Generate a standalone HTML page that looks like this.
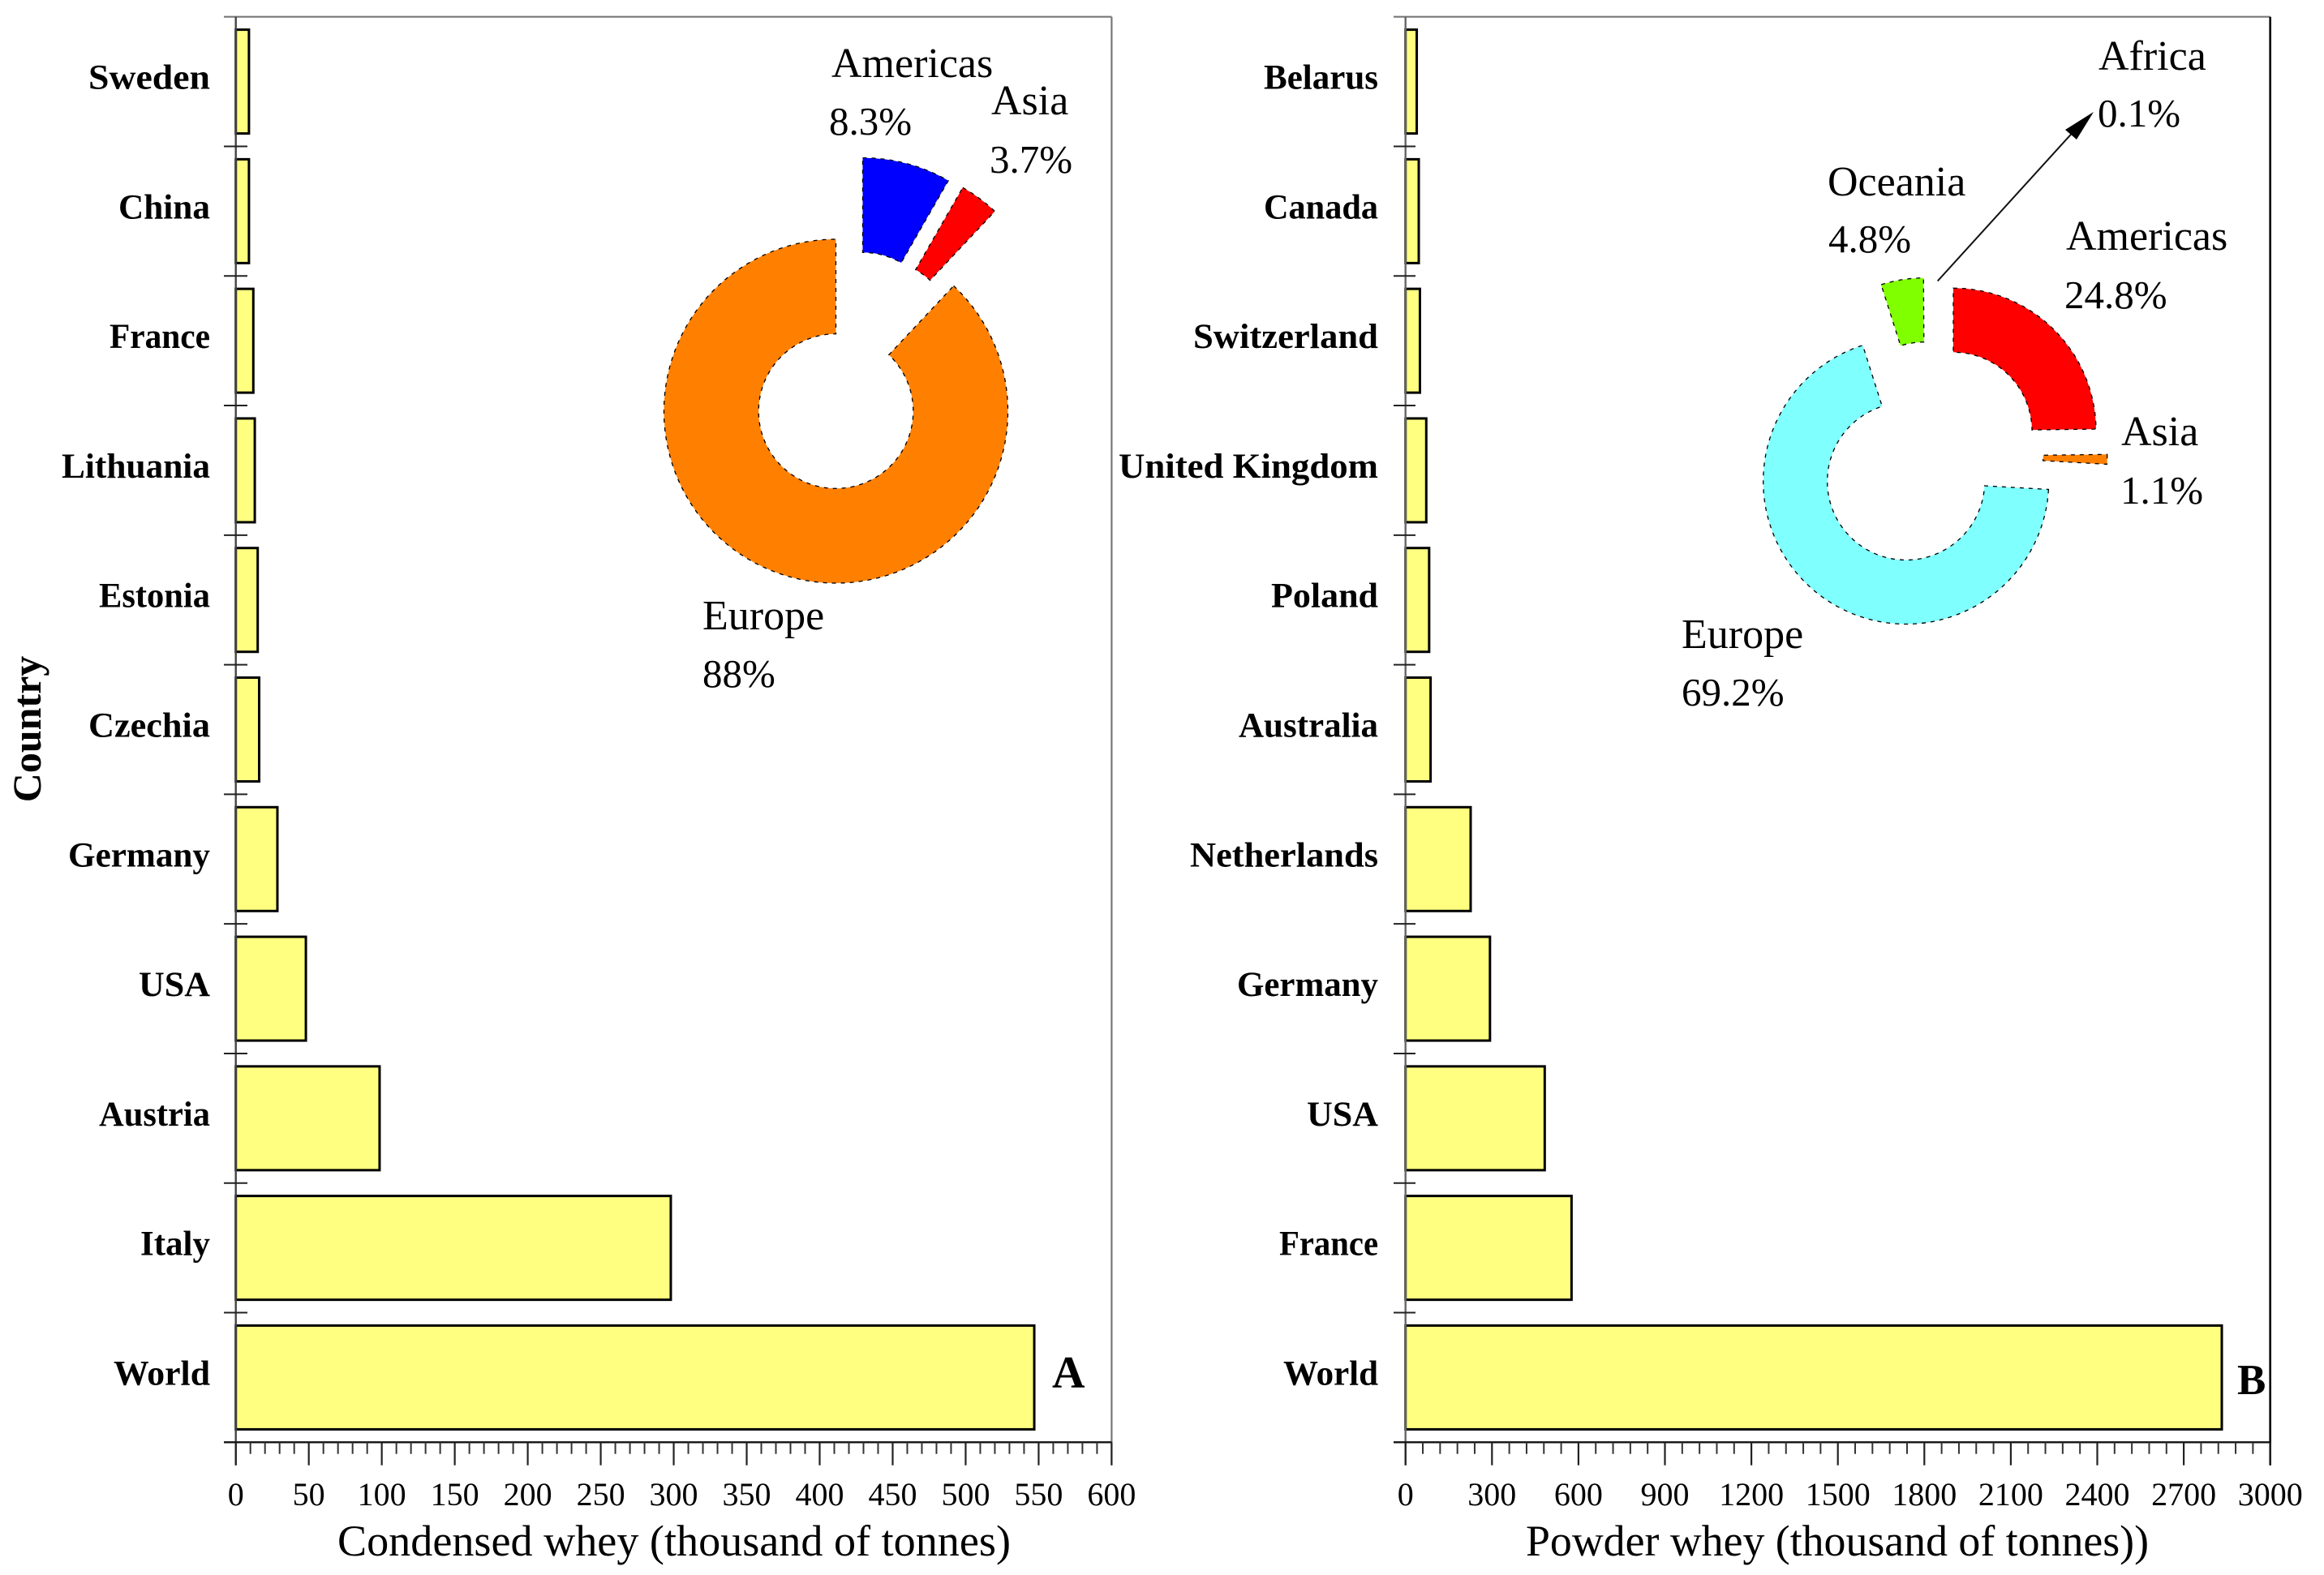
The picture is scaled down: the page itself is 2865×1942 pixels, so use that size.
<!DOCTYPE html>
<html lang="en">
<head>
<meta charset="utf-8">
<title>Condensed and powder whey production</title>
<style>
html,body{margin:0;padding:0;background:#fff;width:2865px;height:1942px;overflow:hidden}
svg{display:block}
text{font-family:"Liberation Serif",serif;fill:#000}
</style>
</head>
<body>
<svg id="figure" xmlns="http://www.w3.org/2000/svg" width="2865" height="1942" viewBox="0 0 2865 1942">
  <rect x="0" y="0" width="2865" height="1942" fill="#fff"/>
  <text transform="translate(50,899) rotate(-90)" text-anchor="middle" font-size="50" font-weight="bold">Country</text>
  <text x="416" y="1918" font-size="54" textLength="830" lengthAdjust="spacingAndGlyphs">Condensed whey (thousand of tonnes)</text>
  <text x="1881" y="1918" font-size="54" textLength="768" lengthAdjust="spacingAndGlyphs">Powder whey (thousand of tonnes))</text>
  <text x="1297" y="1711" font-size="56" font-weight="bold">A</text>
  <text x="2758" y="1719" font-size="53" font-weight="bold">B</text>
</svg>
<script>
// Panel A data
const categoriesA = ['Sweden','China','France','Lithuania','Estonia','Czechia','Germany','USA','Austria','Italy','World'];
const valuesA = [9, 9, 12, 13, 15, 16, 28.5, 48, 98.5, 298, 547];
const ticksA = [0,50,100,150,200,250,300,350,400,450,500,550,600];

// Panel B data
const categoriesB = ['Belarus','Canada','Switzerland','United Kingdom','Poland','Australia','Netherlands','Germany','USA','France','World'];
const valuesB = [39, 46, 50, 72, 82, 87, 226, 293, 483, 576, 2832];
const ticksB = [0,300,600,900,1200,1500,1800,2100,2400,2700,3000];

// Donut data (clockwise from 12 o'clock)
const regionsA = ['Americas','Asia','Europe'];
const sharesA = [8.3, 3.7, 88];
const regionsB = ['Americas','Asia','Europe','Oceania','Africa'];
const sharesB = [24.8, 1.1, 69.2, 4.8, 0.1];

// Layout (separate from the data)
const NS = 'http://www.w3.org/2000/svg';
const svg = document.getElementById('figure');
const TOP = 20.7, AXIS_Y = 1778.3, SLOT = (AXIS_Y - TOP) / 11, BAR_H = 128;

const panelA = {id:'a', x0:290.7, x1:1370.4, max:600, labelX:259, tickL:276, tickR:305, leftCol:'#444', rightCol:'#777', rightW:2.2, minor:5,
  labelW:{Sweden:150,China:113,France:124,Lithuania:183,Estonia:137,Czechia:150,Germany:175,USA:88,Austria:137,Italy:86,World:119}};
const panelB = {id:'b', x0:1732.7, x1:2798.7, max:3000, labelX:1699, tickL:1718, tickR:1745, leftCol:'#666', rightCol:'#000', rightW:2.6, minor:5,
  labelW:{Belarus:141,Canada:141,Switzerland:228,'United Kingdom':320,Poland:132,Australia:172,Netherlands:232,Germany:174,USA:88,France:122,World:117}};

const donutA = {id:'a', cx:1030.5, cy:507, ro:212, ri:95.3,
  colors:{Americas:'#0000ff',Asia:'#ff0000',Europe:'#ff8000'},
  explode:{Americas:[33,-100.4],Asia:[50.8,-91.9],Europe:[0,0]},
  label:{Americas:[[1025,95],[1022,166]],Asia:[[1222,141],[1220,213]],Europe:[[866,776],[866,847]]}};
const donutB = {id:'b', cx:2349.7, cy:593.5, ro:176, ri:97,
  colors:{Americas:'#ff0000',Asia:'#ff8000',Europe:'#80ffff',Oceania:'#80ff00',Africa:'#ffffff'},
  explode:{Americas:[58.3,-62.2],Asia:[72,-31],Europe:[0,0],Oceania:[22.7,-74.8],Africa:[38,-78]},
  label:{Americas:[[2547,308],[2545,380]],Asia:[[2615,549],[2614,621]],Europe:[[2073,799],[2073,870]],Oceania:[[2253,241],[2254,311]],Africa:[[2587,86],[2586,156]]}};

function xScale(p, v){ return p.x0 + (p.x1 - p.x0) * v / p.max; }
function slotTop(i){ return TOP + i * SLOT; }

function line(x1,y1,x2,y2,col,w){
  const el = document.createElementNS(NS,'line');
  el.setAttribute('x1',x1);
  el.setAttribute('y1',y1);
  el.setAttribute('x2',x2);
  el.setAttribute('y2',y2);
  el.setAttribute('stroke',col);
  el.setAttribute('stroke-width',w);
  svg.appendChild(el);
  return el;
}
function label(str,x,y,size,anchor,weight){
  const el = document.createElementNS(NS,'text');
  el.setAttribute('x',x);
  el.setAttribute('y',y);
  el.setAttribute('font-size',size);
  el.setAttribute('text-anchor',anchor);
  if(weight) el.setAttribute('font-weight',weight);
  el.textContent = str;
  svg.appendChild(el);
  return el;
}

function drawPanel(p, categories, values, ticks){
  // bars
  categories.forEach(function(name,i){
    const r = document.createElementNS(NS,'rect');
    const right = xScale(p, values[i]);
    const cy = slotTop(i) + SLOT/2;
    r.setAttribute('x',p.x0);
    r.setAttribute('y',cy - BAR_H/2);
    r.setAttribute('width',right - p.x0);
    r.setAttribute('height',BAR_H);
    r.setAttribute('fill','#ffff80');
    r.setAttribute('stroke','#000');
    r.setAttribute('stroke-width','3');
    
    
    svg.appendChild(r);
    const t = label(name, p.labelX, cy + 9, 43, 'end', 'bold');
    t.setAttribute('textLength',p.labelW[name]);
    t.setAttribute('lengthAdjust','spacingAndGlyphs');
    
    
  });
  // frame
  const top = line(p.tickL,TOP,p.x1,TOP,'#777',2.2);
  
  
  const left = line(p.x0,TOP,p.x0,AXIS_Y+28.4,p.leftCol,2.4);
  
  
  const right = line(p.x1,TOP,p.x1,AXIS_Y+28.4,p.rightCol,p.rightW);
  
  
  const bottom = line(p.tickL,AXIS_Y,p.x1,AXIS_Y,'#111',2.4);
  
  
  // y ticks
  for(let i=1;i<categories.length;i++){
    const yt = line(p.tickL,slotTop(i),p.tickR,slotTop(i),'#222',2);
    
    
  }
  // x ticks
  ticks.forEach(function(v,i){
    const x = xScale(p,v);
    const maj = line(x,AXIS_Y,x,AXIS_Y+28.4,'#222',2.2);
    
    
    const t = label(String(v),x,1856,40,'middle');
    
    
    if(i < ticks.length-1){
      const step = (ticks[i+1]-v)/p.minor;
      for(let k=1;k<p.minor;k++){
        const xm = xScale(p,v+k*step);
        const mn = line(xm,AXIS_Y,xm,AXIS_Y+14.4,'#333',2);
        
        
      }
    }
  });
}

function polar(cx,cy,r,deg){
  const a = deg*Math.PI/180;
  return [cx + r*Math.sin(a), cy - r*Math.cos(a)];
}
function drawDonut(d, regions, shares){
  const total = shares.reduce(function(a,b){return a+b;},0);
  let start = 0;
  regions.forEach(function(name,i){
    const sweep = shares[i]/total*360;
    const end = start + sweep;
    const off = d.explode[name];
    const cx = d.cx + off[0], cy = d.cy + off[1];
    const a = polar(cx,cy,d.ro,start), b = polar(cx,cy,d.ro,end);
    const c = polar(cx,cy,d.ri,end), e = polar(cx,cy,d.ri,start);
    const large = sweep > 180 ? 1 : 0;
    const path = document.createElementNS(NS,'path');
    path.setAttribute('d','M'+a[0]+' '+a[1]+' A'+d.ro+' '+d.ro+' 0 '+large+' 1 '+b[0]+' '+b[1]+' L'+c[0]+' '+c[1]+' A'+d.ri+' '+d.ri+' 0 '+large+' 0 '+e[0]+' '+e[1]+' Z');
    path.setAttribute('fill',d.colors[name]);
    if(name !== 'Africa'){
      path.setAttribute('stroke','#000');
      path.setAttribute('stroke-width','1.3');
      path.setAttribute('stroke-dasharray','5 6');
    }
    
    
    svg.appendChild(path);
    const pos = d.label[name];
    const t1 = label(name,pos[0][0],pos[0][1],52,'start');
    
    
    const t2 = label(shares[i]+'%',pos[1][0],pos[1][1],49,'start');
    
    
    start = end;
  });
}

drawPanel(panelA, categoriesA, valuesA, ticksA);
drawPanel(panelB, categoriesB, valuesB, ticksB);
drawDonut(donutA, regionsA, sharesA);
drawDonut(donutB, regionsB, sharesB);

// Africa call-out arrow
const arrowLine = line(2388.7,346.5,2560,158,'#111',2);


const arrowHead = document.createElementNS(NS,'polygon');
arrowHead.setAttribute('points','2581,138 2560,172 2546,160');
arrowHead.setAttribute('fill','#000');


svg.appendChild(arrowHead);
</script>
</body>
</html>
